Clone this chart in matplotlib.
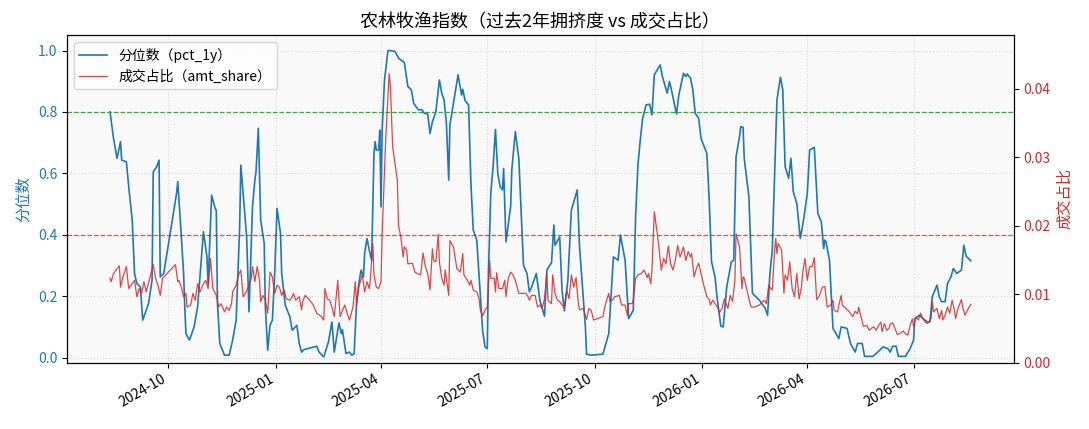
import matplotlib
matplotlib.use("Agg")
import matplotlib.pyplot as plt
import matplotlib.dates as mdates
import pandas as pd

plt.rcParams['font.family'] = ['Noto Sans CJK SC', 'DejaVu Sans']
plt.rcParams['axes.unicode_minus'] = False

start = pd.Timestamp('2024-08-12')

# 分位数 (pct_1y): day offset from start, value
pct_day = [0, 3, 6, 9, 10, 14, 16, 19, 21, 23, 26, 28, 33, 36, 37, 40, 42, 43, 46, 57, 58, 60, 63, 64, 65, 68, 72, 75,
           80, 83, 84, 87, 90, 91, 92, 94, 98, 102, 105, 108, 111, 112, 117, 119, 122, 124, 125, 127, 129, 132, 133,
           135, 137, 139, 141, 143, 146, 147, 150, 154, 156, 160, 162, 164, 166, 177, 179, 183, 187, 190, 192, 196,
           198, 199, 202, 205, 207, 209, 211, 213, 215, 217, 218, 220, 222, 224, 226, 227, 228, 230, 231, 232, 233,
           235, 238, 240, 244, 247, 252, 255, 258, 260, 264, 267, 269, 272, 274, 276, 279, 282, 284, 286, 288, 290,
           291, 294, 298, 301, 302, 304, 307, 309, 311, 314, 317, 319, 321, 323, 324, 326, 328, 330, 332, 334, 336,
           337, 339, 343, 344, 347, 350, 353, 354, 357, 359, 361, 364, 365, 368, 372, 374, 378, 380, 381, 385, 387,
           389, 392, 395, 400, 402, 407, 408, 412, 422, 427, 431, 435, 437, 441, 444, 448, 450, 452, 454, 456, 459,
           462, 464, 466, 471, 473, 477, 479, 481, 485, 487, 491, 493, 494, 497, 499, 501, 504, 506, 511, 513, 515,
           518, 520, 523, 525, 528, 532, 534, 536, 539, 540, 542, 543, 547, 550, 556, 561, 563, 565, 567, 571, 574,
           576, 578, 581, 583, 585, 588, 591, 594, 597, 599, 603, 606, 609, 611, 612, 613, 616, 619, 624, 626, 631,
           634, 638, 640, 644, 646, 653, 656, 662, 666, 668, 670, 673, 675, 681, 685, 688, 689, 693, 696, 700, 702,
           704, 708, 710, 712, 715, 717, 720, 722, 725, 729, 731, 733, 737]
pct_1y = [0.80, 0.714, 0.649, 0.703, 0.643, 0.638, 0.557, 0.448, 0.274, 0.241, 0.23, 0.122, 0.176, 0.252, 0.605,
          0.622, 0.643, 0.263, 0.274, 0.535, 0.573, 0.459, 0.274, 0.165, 0.078, 0.057, 0.10, 0.165, 0.41, 0.328,
          0.241, 0.529, 0.486, 0.48, 0.176, 0.046, 0.008, 0.008, 0.057, 0.122, 0.426, 0.627, 0.393, 0.149, 0.491,
          0.578, 0.605, 0.747, 0.448, 0.372, 0.165, 0.024, 0.105, 0.122, 0.274, 0.486, 0.404, 0.274, 0.171, 0.133,
          0.089, 0.105, 0.046, 0.018, 0.026, 0.037, 0.018, 0.002, 0.051, 0.116, 0.018, 0.113, 0.078, 0.091, 0.013,
          0.018, 0.008, 0.013, 0.171, 0.241, 0.285, 0.263, 0.339, 0.388, 0.35, 0.317, 0.665, 0.703, 0.676, 0.676,
          0.741, 0.491, 0.741, 0.904, 1.0, 1.0, 0.997, 0.975, 0.961, 0.883, 0.872, 0.828, 0.807, 0.807, 0.796,
          0.793, 0.73, 0.768, 0.801, 0.904, 0.861, 0.839, 0.763, 0.578, 0.758, 0.828, 0.921, 0.855, 0.874, 0.837,
          0.823, 0.567, 0.415, 0.383, 0.209, 0.089, 0.035, 0.029, 0.274, 0.535, 0.622, 0.743, 0.6, 0.557, 0.546,
          0.616, 0.377, 0.491, 0.611, 0.736, 0.649, 0.383, 0.301, 0.274, 0.214, 0.23, 0.263, 0.274, 0.187, 0.135,
          0.285, 0.309, 0.432, 0.366, 0.393, 0.22, 0.152, 0.252, 0.48, 0.546, 0.361, 0.10, 0.011, 0.008, 0.011,
          0.078, 0.328, 0.317, 0.399, 0.317, 0.127, 0.154, 0.459, 0.627, 0.709, 0.779, 0.823, 0.825, 0.79, 0.921,
          0.953, 0.915, 0.861, 0.899, 0.866, 0.793, 0.855, 0.926, 0.915, 0.924, 0.91, 0.872, 0.796, 0.779, 0.714,
          0.665, 0.513, 0.312, 0.263, 0.187, 0.102, 0.10, 0.23, 0.312, 0.317, 0.654, 0.72, 0.752, 0.75, 0.649,
          0.524, 0.209, 0.187, 0.16, 0.138, 0.274, 0.35, 0.839, 0.913, 0.872, 0.622, 0.584, 0.649, 0.54, 0.502,
          0.388, 0.453, 0.535, 0.676, 0.685, 0.47, 0.442, 0.355, 0.383, 0.377, 0.317, 0.095, 0.062, 0.10, 0.095,
          0.046, 0.018, 0.046, 0.046, 0.004, 0.004, 0.013, 0.035, 0.029, 0.018, 0.037, 0.037, 0.004, 0.004, 0.029,
          0.057, 0.127, 0.138, 0.127, 0.116, 0.116, 0.198, 0.236, 0.198, 0.182, 0.182, 0.241, 0.263, 0.29, 0.274,
          0.285, 0.366, 0.33, 0.315]

# 成交占比 (amt_share)
amt_day = [0, 1, 3, 6, 8, 9, 11, 14, 16, 18, 21, 23, 25, 27, 29, 31, 34, 37, 39, 41, 43, 45, 56, 58, 59, 61, 63, 65,
           66, 69, 71, 73, 75, 77, 80, 82, 84, 86, 88, 91, 93, 95, 98, 100, 102, 104, 105, 107, 108, 110, 112, 114,
           116, 119, 121, 122, 124, 126, 128, 129, 131, 133, 135, 137, 139, 141, 143, 145, 147, 149, 151, 154, 156,
           157, 159, 162, 164, 165, 167, 171, 174, 177, 181, 183, 184, 186, 188, 190, 192, 195, 197, 199, 201, 203,
           205, 208, 210, 211, 213, 216, 218, 220, 222, 223, 225, 226, 228, 230, 232, 233, 236, 239, 240, 242, 244,
           246, 247, 249, 251, 252, 254, 255, 259, 261, 263, 266, 268, 270, 272, 274, 276, 277, 279, 281, 282, 284,
           286, 287, 290, 291, 294, 297, 300, 302, 303, 306, 308, 309, 311, 314, 316, 317, 319, 321, 323, 325, 326,
           329, 330, 331, 333, 336, 338, 339, 341, 343, 345, 347, 350, 354, 356, 358, 359, 361, 364, 366, 368, 370,
           372, 374, 375, 378, 379, 381, 383, 385, 387, 389, 391, 393, 394, 395, 397, 399, 401, 402, 405, 408, 410,
           412, 414, 422, 424, 427, 428, 430, 432, 436, 438, 441, 443, 444, 447, 448, 450, 452, 455, 457, 458, 460,
           461, 463, 464, 466, 469, 472, 474, 476, 478, 480, 482, 484, 486, 488, 490, 491, 493, 495, 497, 498, 500,
           502, 504, 506, 508, 511, 513, 514, 516, 518, 520, 522, 524, 526, 529, 531, 533, 535, 536, 539, 541, 542,
           543, 546, 548, 549, 552, 556, 560, 562, 564, 565, 567, 569, 570, 571, 572, 575, 577, 578, 580, 582, 584,
           586, 588, 590, 592, 593, 595, 597, 599, 601, 603, 605, 607, 610, 612, 614, 617, 619, 620, 623, 624, 626,
           627, 630, 633, 636, 638, 640, 641, 643, 645, 648, 650, 652, 654, 656, 658, 660, 661, 663, 665, 667, 668,
           670, 672, 674, 677, 679, 681, 683, 685, 687, 688, 690, 692, 694, 696, 698, 700, 703, 704, 705, 708, 710,
           712, 713, 715, 717, 719, 721, 723, 724, 726, 729, 730, 732, 734, 737]
amt_share = [0.0123, 0.0118, 0.0130, 0.0137, 0.0141, 0.0110, 0.0125, 0.0140, 0.0108, 0.0113, 0.0120, 0.0096,
             0.0108, 0.0101, 0.0118, 0.0103, 0.0123, 0.0143, 0.0123, 0.0113, 0.0098, 0.0123, 0.0143, 0.0118,
             0.0120, 0.0110, 0.0096, 0.0101, 0.0081, 0.0084, 0.0101, 0.0091, 0.0115, 0.0103, 0.0115, 0.0120,
             0.0108, 0.0152, 0.0108, 0.0098, 0.0081, 0.0086, 0.0074, 0.0081, 0.0076, 0.0086, 0.0103, 0.0110,
             0.0113, 0.0128, 0.0135, 0.0096, 0.0101, 0.0113, 0.0123, 0.0140, 0.0118, 0.0140, 0.0120, 0.0089,
             0.0098, 0.0091, 0.0072, 0.0132, 0.0125, 0.0101, 0.0113, 0.0110, 0.0098, 0.0106, 0.0093, 0.0091,
             0.0096, 0.0101, 0.0091, 0.0096, 0.0077, 0.0089, 0.0098, 0.0091, 0.0084, 0.0072, 0.0067, 0.0062,
             0.0108, 0.0093, 0.0091, 0.0081, 0.0067, 0.0120, 0.0067, 0.0076, 0.0084, 0.0072, 0.0062, 0.0081,
             0.0118, 0.0084, 0.0110, 0.0128, 0.0103, 0.0118, 0.0108, 0.0123, 0.0174, 0.0128, 0.0110, 0.0108,
             0.0118, 0.0188, 0.0325, 0.0422, 0.0405, 0.0315, 0.0290, 0.0266, 0.0200, 0.0183, 0.0154, 0.0169,
             0.0164, 0.0144, 0.0145, 0.0132, 0.0130, 0.0128, 0.0160, 0.0140, 0.0130, 0.0106, 0.0166, 0.0149,
             0.0147, 0.0187, 0.0147, 0.0123, 0.0113, 0.0135, 0.0098, 0.0178, 0.0169, 0.0137, 0.0132, 0.0159,
             0.0128, 0.0120, 0.0113, 0.0120, 0.0106, 0.0103, 0.0093, 0.0077, 0.0068, 0.0076, 0.0081, 0.0149,
             0.0123, 0.0123, 0.0103, 0.0131, 0.0108, 0.0108, 0.0120, 0.0096, 0.0123, 0.0132, 0.0128, 0.0120,
             0.0101, 0.0101, 0.0101, 0.0096, 0.0091, 0.0098, 0.0098, 0.0081, 0.0084, 0.0079, 0.0093, 0.0130,
             0.0091, 0.0086, 0.0128, 0.0101, 0.0091, 0.0089, 0.0084, 0.0081, 0.0106, 0.0093, 0.0110, 0.0128,
             0.0110, 0.0124, 0.0086, 0.0077, 0.0079, 0.0063, 0.0079, 0.0076, 0.0062, 0.0067, 0.0084, 0.0101,
             0.0089, 0.0091, 0.0096, 0.0098, 0.0084, 0.0084, 0.0069, 0.0086, 0.0086, 0.0091, 0.0123, 0.0128,
             0.0130, 0.0135, 0.0132, 0.0124, 0.0130, 0.0115, 0.0135, 0.0220, 0.0183, 0.0135, 0.0152, 0.0144,
             0.0170, 0.0144, 0.0135, 0.0149, 0.0171, 0.0154, 0.0164, 0.0169, 0.0149, 0.0162, 0.0154, 0.0159,
             0.0125, 0.0137, 0.0145, 0.0130, 0.0115, 0.0096, 0.0092, 0.0084, 0.0091, 0.0086, 0.0081, 0.0073,
             0.0079, 0.0093, 0.0079, 0.0098, 0.0089, 0.0120, 0.0188, 0.0169, 0.0108, 0.0125, 0.0123, 0.0101,
             0.0086, 0.0081, 0.0081, 0.0084, 0.0091, 0.0086, 0.0113, 0.0110, 0.0106, 0.0164, 0.0181, 0.0159,
             0.0174, 0.0164, 0.0101, 0.0128, 0.0120, 0.0147, 0.0108, 0.0096, 0.0130, 0.0093, 0.0110, 0.0130,
             0.0152, 0.0120, 0.0140, 0.0140, 0.0153, 0.0092, 0.0096, 0.0110, 0.0111, 0.0081, 0.0084, 0.0091,
             0.0076, 0.0074, 0.0084, 0.0098, 0.0084, 0.0079, 0.0074, 0.0067, 0.0075, 0.0071, 0.0081, 0.0067,
             0.0053, 0.0054, 0.0047, 0.0050, 0.0052, 0.0047, 0.0054, 0.0059, 0.0045, 0.0057, 0.0047, 0.0050,
             0.0056, 0.0058, 0.0050, 0.0041, 0.0043, 0.0046, 0.0042, 0.0040, 0.0054, 0.0064, 0.0052, 0.0066,
             0.0062, 0.0072, 0.0064, 0.0059, 0.0057, 0.0064, 0.0089, 0.0074, 0.0079, 0.0064, 0.0076, 0.0062,
             0.0069, 0.0081, 0.0072, 0.0091, 0.0076, 0.0064, 0.0079, 0.0092, 0.0081, 0.0069, 0.0076, 0.0085]

hot_line = 0.8
cold_line = 0.4

pct_dates = start + pd.to_timedelta(pct_day, unit='D')
amt_dates = start + pd.to_timedelta(amt_day, unit='D')

fig, ax1 = plt.subplots(figsize=(10.89, 4.29), dpi=100)
fig.subplots_adjust(left=0.0615, right=0.931, top=0.918, bottom=0.155)
ax1.set_facecolor('#f9f9f9')

l1, = ax1.plot(pct_dates, pct_1y, color='tab:blue', lw=1.2, label='分位数（pct_1y）')
ax1.axhline(hot_line, color='#2ca02c', ls='--', lw=0.9, alpha=0.9, zorder=3)
ax1.axhline(cold_line, color='red', ls='--', lw=0.9, alpha=0.7, zorder=3)
ax1.set_ylim(-0.016, 1.05)
ax1.set_ylabel('分位数', color='tab:blue', fontsize=11)
ax1.tick_params(axis='y', labelcolor='tab:blue', labelsize=10)
ax1.tick_params(axis='x', labelsize=10)
ax1.grid(True, ls=':', color='#d8d8d8', lw=0.8)

ax2 = ax1.twinx()
l2, = ax2.plot(amt_dates, amt_share, color='tab:red', lw=0.9, alpha=0.85, label='成交占比（amt_share）')
ax2.set_ylim(0, 0.0478)
ax2.set_ylabel('成交占比', color='tab:red', fontsize=11)
ax2.tick_params(axis='y', labelcolor='tab:red', labelsize=10)

ax1.xaxis.set_major_locator(mdates.MonthLocator(bymonth=[1, 4, 7, 10]))
ax1.xaxis.set_major_formatter(mdates.DateFormatter('%Y-%m'))
for lab in ax1.get_xticklabels():
    lab.set_rotation(30)
    lab.set_ha('right')

ax1.legend([l1, l2], [l1.get_label(), l2.get_label()], loc='upper left', fontsize=10)
ax1.set_title('农林牧渔指数（过去2年拥挤度 vs 成交占比）', fontsize=13)

fig.savefig('out.png', dpi=100)
